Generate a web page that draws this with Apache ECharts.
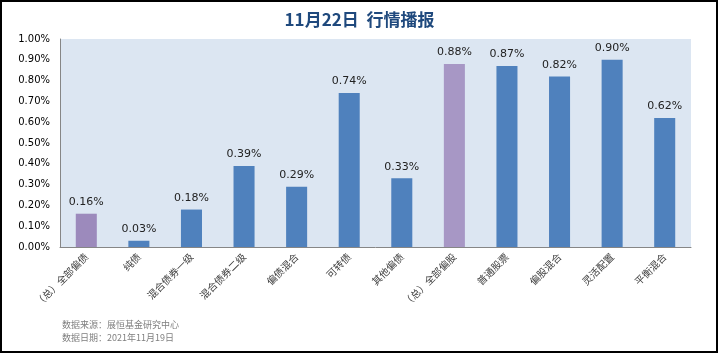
<!DOCTYPE html>
<html>
<head>
<meta charset="utf-8">
<script src="https://cdn.jsdelivr.net/npm/echarts@6/dist/echarts.min.js"></script>
<style>
  html, body { margin: 0; padding: 0; background: #fff; }
  #chart { width: 719px; height: 355px; }
</style>
</head>
<body>
<div id="chart"></div>
<script>
// 分类
const categories = [
  '（总）全部偏债', '纯债', '混合债券一级', '混合债券二级', '偏债混合', '可转债',
  '其他偏债', '（总）全部偏股', '普通股票', '偏股混合', '灵活配置', '平衡混合'
]
// 涨跌幅 (%)
const values = [0.16, 0.03, 0.18, 0.39, 0.29, 0.74, 0.33, 0.88, 0.87, 0.82, 0.90, 0.62]
// 汇总类目用紫色
const totalIdx = [0, 7]

const chart = echarts.init(document.getElementById('chart'))
const option = {
  animation: false,
  backgroundColor: '#fff',
  title: {
    text: '11月22日  行情播报',
    left: 'center',
    top: 6,
    textStyle: {
      color: '#1F497D',
      fontSize: 17,
      fontWeight: 'bold',
      fontFamily: 'Noto Sans CJK SC'
    }
  },
  grid: {
    left: 60,
    right: 28,
    top: 39,
    bottom: 108,
    show: true,
    backgroundColor: '#DCE6F2',
    borderWidth: 0
  },
  xAxis: {
    type: 'category',
    data: categories,
    axisLine: { show: true, lineStyle: { color: '#868686' } },
    axisTick: { show: false },
    axisLabel: {
      interval: 0,
      rotate: 45,
      margin: 8,
      color: '#404040',
      fontSize: 10,
      fontFamily: 'Noto Sans CJK SC'
    }
  },
  yAxis: {
    type: 'value',
    min: 0,
    max: 1,
    interval: 0.1,
    axisLine: { show: true, lineStyle: { color: '#868686' } },
    axisTick: { show: false },
    splitLine: { show: false },
    axisLabel: {
      margin: 10,
      color: '#000',
      fontSize: 10,
      fontFamily: 'DejaVu Sans',
      formatter: v => v.toFixed(2) + '%'
    }
  },
  series: [
    {
      type: 'bar',
      barWidth: '40%',
      data: values.map((v, i) => ({
        value: v,
        itemStyle: { color: totalIdx.includes(i) ? (i === 0 ? '#9C8ABC' : '#A797C5') : '#4F81BD' }
      })),
      label: {
        show: true,
        position: 'top',
        distance: 6,
        color: '#222',
        fontSize: 11,
        fontFamily: 'DejaVu Sans',
        formatter: p => p.value.toFixed(2) + '%'
      }
    }
  ],
  graphic: [
    {
      type: 'rect',
      shape: { x: 1, y: 1, width: 716, height: 351 },
      style: { fill: 'none', stroke: '#000', lineWidth: 2 },
      silent: true
    },
    {
      type: 'text',
      left: 62,
      top: 320,
      style: {
        text: '数据来源：展恒基金研究中心',
        fill: '#7F7F7F',
        fontSize: 9,
        fontFamily: 'Noto Sans CJK SC'
      }
    },
    {
      type: 'text',
      left: 62,
      top: 333,
      style: {
        text: '数据日期：2021年11月19日',
        fill: '#7F7F7F',
        fontSize: 9,
        fontFamily: 'Noto Sans CJK SC'
      }
    }
  ]
}
chart.setOption(option)
</script>
</body>
</html>
